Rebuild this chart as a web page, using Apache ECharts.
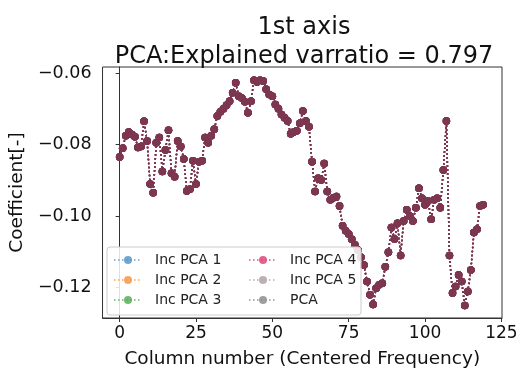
<!DOCTYPE html>
<html>
<head>
<meta charset="utf-8">
<script src="https://cdn.jsdelivr.net/npm/echarts@6/dist/echarts.min.js"></script>
<style>
  html, body { margin: 0; padding: 0; background: #fff; }
  #chart { width: 525px; height: 374px; }
</style>
</head>
<body>
<div id="chart"></div>
<script>
// 第1主成分の係数 (列番号 0..119)
const coef = [
  -0.0835, -0.0810, -0.0775, -0.0765, -0.0772, -0.0778, -0.0808, -0.0805, -0.0735, -0.0790,
  -0.0910, -0.0935, -0.0795, -0.0780, -0.0875, -0.0815, -0.0760, -0.0880, -0.0890, -0.0790,
  -0.0805, -0.0840, -0.0930, -0.0925, -0.0845, -0.0910, -0.0848, -0.0845, -0.0780, -0.0795,
  -0.0775, -0.0757, -0.0720, -0.0708, -0.0700, -0.0690, -0.0679, -0.0655, -0.0627, -0.0665,
  -0.0670, -0.0680, -0.0711, -0.0679, -0.0620, -0.0625, -0.0620, -0.0622, -0.0645, -0.0660,
  -0.0665, -0.0688, -0.0700, -0.0716, -0.0725, -0.0734, -0.0770, -0.0765, -0.0761, -0.0740,
  -0.0706, -0.0734, -0.0750, -0.0848, -0.0931, -0.0894, -0.0899, -0.0853, -0.0931, -0.0954,
  -0.0949, -0.0945, -0.0972, -0.1027, -0.1041, -0.1050, -0.1065, -0.1080, -0.1095, -0.1115,
  -0.1137, -0.1183, -0.1220, -0.1247, -0.1202, -0.1192, -0.1188, -0.1142, -0.1101, -0.1032,
  -0.1064, -0.1020, -0.1110, -0.1014, -0.0982, -0.1000, -0.1014, -0.0977, -0.0922, -0.0950,
  -0.0968, -0.0958, -0.1009, -0.0954, -0.0950, -0.0977, -0.0871, -0.0734, -0.1110, -0.1215,
  -0.1197, -0.1165, -0.1183, -0.1250, -0.1211, -0.1151, -0.1046, -0.1037, -0.0972, -0.0968
];
const columns = coef.map((_, i) => i);
const seriesNames = ['Inc PCA 1', 'Inc PCA 2', 'Inc PCA 3', 'Inc PCA 4', 'Inc PCA 5', 'PCA'];
const legendColors = ['#5b97c4', '#f39a4c', '#5aad5a', '#e0457b', '#b5a3ad', '#8e8e8e'];
const xTicks = [0, 25, 50, 75, 100, 125];
const yTicks = [-0.12, -0.10, -0.08, -0.06];

const FONT = 'DejaVu Sans';
const dotColor = '#7d3650';
const points = columns.map((c, i) => [c, coef[i]]);

const chart = echarts.init(document.getElementById('chart'));

const legendItem = (name) => {
  const k = seriesNames.indexOf(name);
  return {
    name,
    itemStyle: { color: legendColors[k], opacity: 0.85 },
    lineStyle: { color: legendColors[k], opacity: 0.7 }
  };
};

const legendBase = {
  orient: 'vertical',
  top: 253,
  z: 4,
  padding: 0,
  itemWidth: 28,
  itemHeight: 10,
  itemGap: 6,
  textStyle: { fontFamily: FONT, fontSize: 14, color: '#222', lineHeight: 14, padding: [0, 0, 0, 8] }
};

chart.setOption({
  animation: false,
  title: {
    text: '1st axis\nPCA:Explained varratio = 0.797',
    left: 299,
    top: 8,
    textAlign: 'center',
    textStyle: {
      fontFamily: FONT,
      fontSize: 24,
      fontWeight: 'normal',
      color: '#111',
      lineHeight: 29
    }
  },
  graphic: [{
    type: 'rect',
    z: 3,
    shape: { x: 107, y: 247, width: 254, height: 68, r: 3 },
    style: { fill: 'rgba(255,255,255,0.85)', stroke: '#cccccc', lineWidth: 1 }
  }],
  legend: [
    Object.assign({ left: 113, data: seriesNames.slice(0, 3).map(legendItem) }, legendBase),
    Object.assign({ left: 248, data: seriesNames.slice(3).map(legendItem) }, legendBase)
  ],
  grid: {
    left: 100,
    right: 23,
    top: 67,
    bottom: 52,
    show: true,
    borderColor: '#333',
    borderWidth: 1,
    backgroundColor: 'transparent'
  },
  xAxis: {
    type: 'value',
    min: -5.6,
    max: 125.2,
    name: 'Column number (Centered Frequency)',
    nameLocation: 'middle',
    nameGap: 32,
    nameTextStyle: { fontFamily: FONT, fontSize: 18.5, color: '#111' },
    axisLine: { show: true, lineStyle: { color: '#333', width: 1 } },
    axisTick: { show: true, length: 4, lineStyle: { color: '#333' }, customValues: xTicks },
    axisLabel: { fontFamily: FONT, fontSize: 17, color: '#111', margin: 7, customValues: xTicks },
    splitLine: { show: false }
  },
  yAxis: {
    type: 'value',
    min: -0.1285,
    max: -0.0583,
    name: 'Coefficient[-]',
    nameLocation: 'middle',
    nameGap: 72,
    nameTextStyle: { fontFamily: FONT, fontSize: 18.5, color: '#111' },
    axisLine: { show: true, lineStyle: { color: '#333', width: 1 } },
    axisTick: { show: true, length: 4, lineStyle: { color: '#333' }, customValues: yTicks },
    axisLabel: {
      fontFamily: FONT,
      fontSize: 17.5,
      color: '#111',
      margin: 11,
      customValues: yTicks,
      formatter: (v) => v.toFixed(2).replace('-', '\u2212')
    },
    splitLine: { show: false }
  },
  series: seriesNames.map((name) => ({
    name,
    type: 'line',
    data: points,
    symbol: 'circle',
    symbolSize: 7.5,
    z: 2,
    itemStyle: { color: dotColor },
    lineStyle: { color: dotColor, width: 1.5, type: [1.5, 2.5] }
  }))
});
</script>
</body>
</html>
